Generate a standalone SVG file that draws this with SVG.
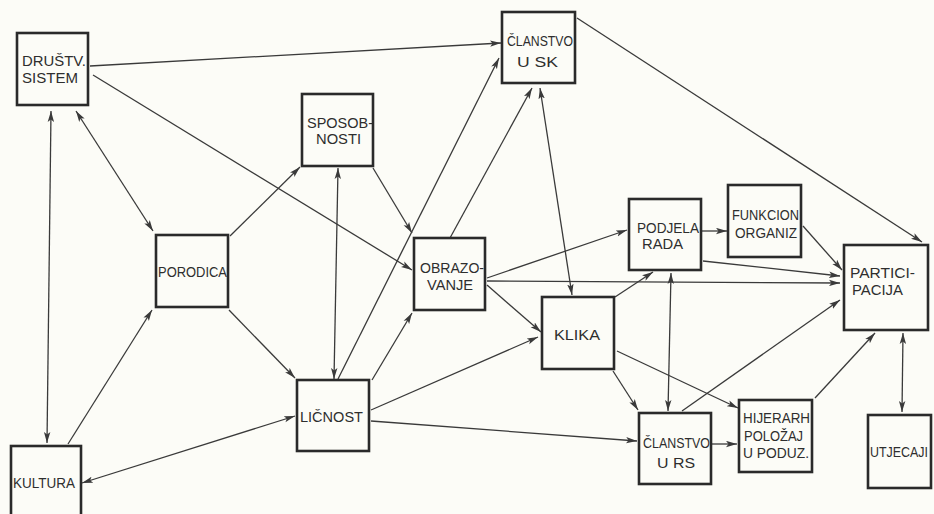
<svg xmlns="http://www.w3.org/2000/svg" width="934" height="514" viewBox="0 0 934 514">
<style>
.bg{fill:#fcfcf7}
.box{fill:none;stroke:#2a2a2a;stroke-width:2.6}
.t{font-family:"Liberation Sans","DejaVu Sans",sans-serif;font-size:14px;fill:#2e2e2e}
.c{fill:none;stroke:#3a3a3a;stroke-width:1.3}
.a{marker-end:url(#ah)}
.b{marker-start:url(#ah);marker-end:url(#ah)}
</style>
<defs>
<marker id="ah" viewBox="0 0 11 7" refX="11" refY="3.5" markerWidth="11" markerHeight="7" markerUnits="userSpaceOnUse" orient="auto-start-reverse">
<path d="M0,0.3 L11,3.5 L0,6.7 L2.5,3.5 z" fill="#3a3a3a"/>
</marker>
</defs>
<rect class="bg" x="0" y="0" width="934" height="514"/>

<g id="connectors">
<path class="c a" d="M90,66 L501,43"/>
<path class="c a" d="M93,75 L412,270"/>
<path class="c b" d="M76,111 L153,231"/>
<path class="c b" d="M51,111 L47,443"/>
<path class="c a" d="M68,444 L152,310"/>
<path class="c b" d="M82,483 L295,416"/>
<path class="c a" d="M230,236 L300,167"/>
<path class="c a" d="M229,310 L295,378"/>
<path class="c b" d="M338,168 L334,379"/>
<path class="c a" d="M373,168 L412,233"/>
<path class="c a" d="M338,379 L499,58"/>
<path class="c a" d="M372,380 L412,313"/>
<path class="c a" d="M450,238 L532,88"/>
<path class="c b" d="M540,88 L572,295"/>
<path class="c a" d="M487,278 L627,230"/>
<path class="c a" d="M487,281 L840,283"/>
<path class="c a" d="M487,285 L541,332"/>
<path class="c a" d="M371,410 L538,337"/>
<path class="c a" d="M371,421 L637,441"/>
<path class="c a" d="M615,297 L653,272"/>
<path class="c b" d="M671,273 L668,411"/>
<path class="c a" d="M701,231 L727,231"/>
<path class="c a" d="M703,261 L840,276"/>
<path class="c a" d="M803,226 L842,270"/>
<path class="c a" d="M577,18 L922,242"/>
<path class="c a" d="M682,411 L840,300"/>
<path class="c a" d="M613,371 L638,410"/>
<path class="c a" d="M617,351 L738,408"/>
<path class="c a" d="M712,444 L737,444"/>
<path class="c a" d="M815,398 L875,333"/>
<path class="c b" d="M903,333 L902,412"/>
</g>

<g id="drustv">
<rect class="box" x="17" y="33" width="71" height="72"/>
<text class="t" x="22" y="66" textLength="64" lengthAdjust="spacingAndGlyphs">DRUŠTV.</text>
<text class="t" x="22" y="83" textLength="56" lengthAdjust="spacingAndGlyphs">SISTEM</text>
</g>
<g id="clanstvo-sk">
<rect class="box" x="502" y="12" width="73" height="71"/>
<text class="t" x="507" y="46" textLength="66" lengthAdjust="spacingAndGlyphs">ČLANSTVO</text>
<text class="t" x="517" y="67" textLength="41" lengthAdjust="spacingAndGlyphs">U SK</text>
</g>
<g id="sposobnosti">
<rect class="box" x="302" y="94" width="71" height="72"/>
<text class="t" x="307" y="128" textLength="66" lengthAdjust="spacingAndGlyphs">SPOSOB-</text>
<text class="t" x="316" y="144" textLength="45" lengthAdjust="spacingAndGlyphs">NOSTI</text>
</g>
<g id="porodica">
<rect class="box" x="156" y="235" width="72" height="72"/>
<text class="t" x="158" y="277" textLength="69" lengthAdjust="spacingAndGlyphs">PORODICA</text>
</g>
<g id="obrazovanje">
<rect class="box" x="414" y="238" width="71" height="72"/>
<text class="t" x="420" y="273" textLength="64" lengthAdjust="spacingAndGlyphs">OBRAZO-</text>
<text class="t" x="427" y="290" textLength="46" lengthAdjust="spacingAndGlyphs">VANJE</text>
</g>
<g id="podjela">
<rect class="box" x="629" y="199" width="72" height="71"/>
<text class="t" x="637" y="233" textLength="62" lengthAdjust="spacingAndGlyphs">PODJELA</text>
<text class="t" x="642" y="249" textLength="41" lengthAdjust="spacingAndGlyphs">RADA</text>
</g>
<g id="funkcion">
<rect class="box" x="728" y="185" width="73" height="72"/>
<text class="t" x="732" y="220" textLength="67" lengthAdjust="spacingAndGlyphs">FUNKCION</text>
<text class="t" x="735" y="238" textLength="62" lengthAdjust="spacingAndGlyphs">ORGANIZ</text>
</g>
<g id="participacija">
<rect class="box" x="844" y="245" width="84" height="85"/>
<text class="t" x="850" y="278" textLength="65" lengthAdjust="spacingAndGlyphs">PARTICI-</text>
<text class="t" x="852" y="295" textLength="51" lengthAdjust="spacingAndGlyphs">PACIJA</text>
</g>
<g id="klika">
<rect class="box" x="542" y="297" width="72" height="72"/>
<text class="t" x="554" y="340" textLength="46" lengthAdjust="spacingAndGlyphs">KLIKA</text>
</g>
<g id="licnost">
<rect class="box" x="297" y="380" width="72" height="71"/>
<text class="t" x="300" y="422" textLength="63" lengthAdjust="spacingAndGlyphs">LIČNOST</text>
</g>
<g id="kultura">
<rect class="box" x="11" y="446" width="70" height="80"/>
<text class="t" x="13" y="488" textLength="62" lengthAdjust="spacingAndGlyphs">KULTURA</text>
</g>
<g id="clanstvo-rs">
<rect class="box" x="639" y="413" width="72" height="71"/>
<text class="t" x="643" y="448" textLength="67" lengthAdjust="spacingAndGlyphs">ČLANSTVO</text>
<text class="t" x="657" y="468" textLength="38" lengthAdjust="spacingAndGlyphs">U RS</text>
</g>
<g id="hijerarh">
<rect class="box" x="739" y="400" width="73" height="72"/>
<text class="t" x="743" y="423" textLength="67" lengthAdjust="spacingAndGlyphs">HIJERARH</text>
<text class="t" x="744" y="441" textLength="59" lengthAdjust="spacingAndGlyphs">POLOŽAJ</text>
<text class="t" x="743" y="458" textLength="66" lengthAdjust="spacingAndGlyphs">U PODUZ.</text>
</g>
<g id="utjecaji">
<rect class="box" x="868" y="415" width="63" height="73"/>
<text class="t" x="870" y="457" textLength="58" lengthAdjust="spacingAndGlyphs">UTJECAJI</text>
</g>
</svg>
